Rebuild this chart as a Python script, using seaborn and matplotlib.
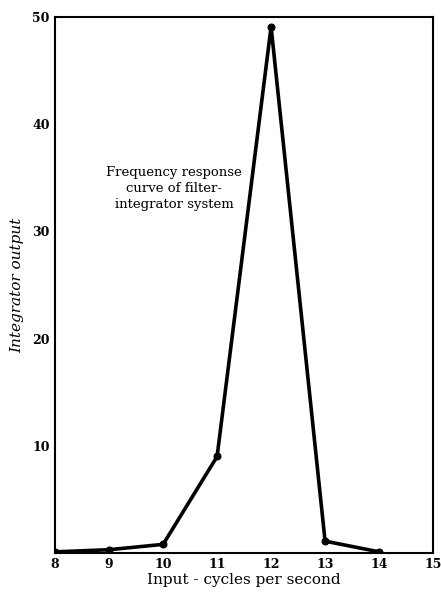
import matplotlib
matplotlib.use("Agg")
import matplotlib.pyplot as plt
import seaborn as sns
import pandas as pd

freq = [8, 9, 10, 11, 12, 13, 14]
output = [0.1, 0.3, 0.8, 9.0, 49.1, 1.1, 0.1]
xticks = [8, 9, 10, 11, 12, 13, 14, 15]
yticks = [10, 20, 30, 40, 50]

sns.set_theme(style="white")
plt.rcParams['font.family'] = ['DejaVu Serif']

df = pd.DataFrame({"freq": freq, "output": output})
fig = plt.figure(figsize=(4.41, 5.92), dpi=100)
ax = fig.add_axes([0.125, 0.066, 0.857, 0.905])
sns.lineplot(data=df, x="freq", y="output", ax=ax, color="black", linewidth=2.6,
             marker="o", markersize=5, markeredgecolor="black")
ax.set_xlim(8, 15)
ax.set_ylim(0, 50)
ax.set_xticks(xticks)
ax.set_xticklabels([str(t) for t in xticks], fontsize=9, fontweight="bold", color="black")
ax.set_yticks(yticks)
ax.set_yticklabels([str(t) for t in yticks], fontsize=9, fontweight="bold", color="black")
ax.tick_params(direction="in", length=5, width=1.2, color="black", pad=4)
for s in ax.spines.values():
    s.set_color("black")
    s.set_linewidth(1.5)
ax.set_xlabel("Input - cycles per second", fontsize=11, labelpad=1, color="black")
ax.set_ylabel("Integrator output", fontsize=11, style="italic", labelpad=6, color="black")
ax.text(10.2, 34.0, "Frequency response\ncurve of filter-\nintegrator system",
        ha="center", va="center", fontsize=9.5, linespacing=1.3, color="black")
fig.savefig("out.png", dpi=100)
